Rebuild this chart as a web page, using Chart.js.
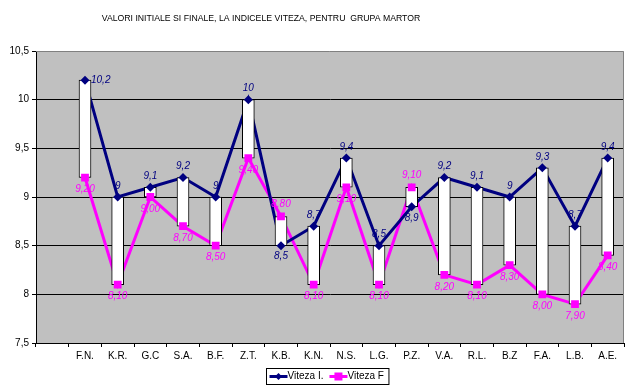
<!DOCTYPE html>
<html>
<head>
<meta charset="utf-8">
<script src="https://cdn.jsdelivr.net/npm/chart.js@4.4.0/dist/chart.umd.min.js"></script>
<style>
  html, body { margin: 0; padding: 0; background: #fff; }
</style>
</head>
<body>
<canvas id="myChart" width="635" height="390"></canvas>
<script>
const players = ['F.N.', 'K.R.', 'G.C', 'S.A.', 'B.F.', 'Z.T.', 'K.B.', 'K.N.', 'N.S.', 'L.G.', 'P.Z.', 'V.A.', 'R.L.', 'B.Z', 'F.A.', 'L.B.', 'A.E.'];
const vitezaInitial = [10.2, 9, 9.1, 9.2, 9, 10, 8.5, 8.7, 9.4, 8.5, 8.9, 9.2, 9.1, 9, 9.3, 8.7, 9.4];
const vitezaFinal = [9.2, 8.1, 9.0, 8.7, 8.5, 9.4, 8.8, 8.1, 9.1, 8.1, 9.1, 8.2, 8.1, 8.3, 8.0, 7.9, 8.4];
const yRange = [7.5, 10.5];
const yStep = 0.5;

const NAVY = '#000080';
const PINK = '#ff00ff';
const FONT = '"Liberation Sans", Arial, sans-serif';
const title = 'VALORI INITIALE SI FINALE, LA INDICELE VITEZA, PENTRU  GRUPA MARTOR';

// excel chart keeps an empty first slot on the category axis
const labels = [''].concat(players);
const initData = [null].concat(vitezaInitial);
const finalData = [null].concat(vitezaFinal);
const hiLo = [null].concat(vitezaInitial.map((v, i) => [vitezaFinal[i], v]));

const comma = v => String(v).replace('.', ',');

const decor = {
  id: 'decor',
  beforeDraw(chart) {
    const { ctx, chartArea: a } = chart;
    ctx.save();
    ctx.fillStyle = '#c0c0c0';
    ctx.fillRect(a.left, a.top, a.right - a.left, a.bottom - a.top);
    ctx.restore();
  },
  afterDatasetsDraw(chart) {
    const { ctx } = chart;
    const xs = chart.scales.x, ys = chart.scales.y;
    ctx.save();
    ctx.font = 'italic 10px ' + FONT;
    ctx.textBaseline = 'middle';
    for (let i = 0; i < players.length; i++) {
      const x = xs.getPixelForValue(i + 1);
      const a = vitezaInitial[i], b = vitezaFinal[i];
      const ya = ys.getPixelForValue(a), yb = ys.getPixelForValue(b);
      const up = a >= b;
      ctx.fillStyle = NAVY;
      if (i === 0) {
        // first label sits to the right of its marker
        ctx.textAlign = 'left';
        ctx.fillText(comma(a), x + 6, ya);
      } else {
        ctx.textAlign = 'center';
        ctx.fillText(comma(a), x, up ? ya - 11 : ya + 11);
      }
      ctx.textAlign = 'center';
      ctx.fillStyle = PINK;
      ctx.fillText(b.toFixed(2).replace('.', ','), x, up ? yb + 12 : yb - 12);
    }
    ctx.restore();
  },
  afterDraw(chart) {
    const { ctx, chartArea: a } = chart;
    ctx.save();
    // plot border top / right
    ctx.strokeStyle = '#808080';
    ctx.lineWidth = 1;
    ctx.beginPath();
    ctx.moveTo(a.left, a.top + 0.5);
    ctx.lineTo(a.right - 0.5, a.top + 0.5);
    ctx.lineTo(a.right - 0.5, a.bottom);
    ctx.stroke();

    // title
    ctx.fillStyle = '#000';
    ctx.font = '8.7px ' + FONT;
    ctx.textAlign = 'center';
    ctx.textBaseline = 'middle';
    ctx.fillText(title, 261, 19);

    // legend
    ctx.font = '10px ' + FONT;
    ctx.textAlign = 'left';
    const items = [
      { text: 'Viteza I.', color: NAVY, style: 'diamond' },
      { text: 'Viteza F', color: PINK, style: 'square' }
    ];
    const seg = 18, gap = 6, pad = 3;
    let w = pad;
    items.forEach(it => { w += seg + ctx.measureText(it.text).width + gap; });
    w = w - gap + pad + 2;
    const cx = (a.left + a.right) / 2 - 3;
    const bx = Math.round(cx - w / 2) + 0.5, by = 368.5, bh = 16;
    ctx.strokeStyle = '#000';
    ctx.lineWidth = 1;
    ctx.strokeRect(bx, by, w, bh);
    let x = bx + pad;
    const yc = by + bh / 2;
    items.forEach(it => {
      ctx.strokeStyle = it.color;
      ctx.fillStyle = it.color;
      ctx.lineWidth = 3;
      ctx.beginPath();
      ctx.moveTo(x, yc);
      ctx.lineTo(x + seg, yc);
      ctx.stroke();
      const mx = x + seg / 2;
      ctx.beginPath();
      if (it.style === 'diamond') {
        ctx.moveTo(mx, yc - 3.5); ctx.lineTo(mx + 3.5, yc); ctx.lineTo(mx, yc + 3.5); ctx.lineTo(mx - 3.5, yc);
      } else {
        ctx.rect(mx - 4, yc - 4, 8, 8);
      }
      ctx.fill();
      ctx.fillStyle = '#000';
      ctx.fillText(it.text, x + seg, yc);
      x += seg + ctx.measureText(it.text).width + gap;
    });
    ctx.restore();
  }
};

const ctx = document.getElementById('myChart').getContext('2d');
new Chart(ctx, {
  type: 'bar',
  data: {
    labels: labels,
    datasets: [
      {
        type: 'line',
        label: 'Viteza I.',
        data: initData,
        borderColor: NAVY,
        borderWidth: 3,
        pointRadius: 0,
        tension: 0,
        order: 2
      },
      {
        type: 'line',
        label: 'Viteza F',
        data: finalData,
        borderColor: PINK,
        borderWidth: 3,
        pointRadius: 0,
        tension: 0,
        order: 2
      },
      {
        type: 'bar',
        label: 'hi-lo',
        data: hiLo,
        backgroundColor: '#ffffff',
        borderColor: '#000000',
        borderWidth: 1,
        borderSkipped: false,
        barThickness: 12,
        order: 1
      },
      {
        type: 'line',
        label: 'Viteza I. points',
        data: initData,
        showLine: false,
        pointStyle: 'rectRot',
        pointRadius: 4.5,
        pointBackgroundColor: NAVY,
        pointBorderColor: NAVY,
        pointBorderWidth: 0,
        order: 0
      },
      {
        type: 'line',
        label: 'Viteza F points',
        data: finalData,
        showLine: false,
        pointStyle: 'rect',
        pointRadius: 5.5,
        pointBackgroundColor: PINK,
        pointBorderColor: PINK,
        pointBorderWidth: 0,
        order: 0
      }
    ]
  },
  options: {
    responsive: false,
    animation: false,
    layout: { padding: { top: 51, right: 11, bottom: 25, left: 0 } },
    plugins: {
      legend: { display: false },
      title: { display: false },
      tooltip: { enabled: false }
    },
    scales: {
      x: {
        offset: true,
        grid: { offset: true, drawOnChartArea: false, color: '#000', tickLength: 4 },
        border: { color: '#000' },
        ticks: { color: '#000', font: { family: FONT, size: 10 }, padding: 3, maxRotation: 0, autoSkip: false },
        afterFit(scale) { scale.height = 22; }
      },
      y: {
        min: yRange[0],
        max: yRange[1],
        grid: {
          color: c => (c.tick && c.tick.value === yRange[1]) ? 'rgba(0,0,0,0)' : '#000',
          tickColor: '#000',
          tickLength: 4
        },
        border: { color: '#000' },
        ticks: {
          stepSize: yStep,
          color: '#000',
          font: { family: FONT, size: 10 },
          padding: 3,
          callback: v => comma(v)
        },
        afterFit(scale) { scale.width = 36; }
      }
    }
  },
  plugins: [decor]
});
</script>
</body>
</html>
